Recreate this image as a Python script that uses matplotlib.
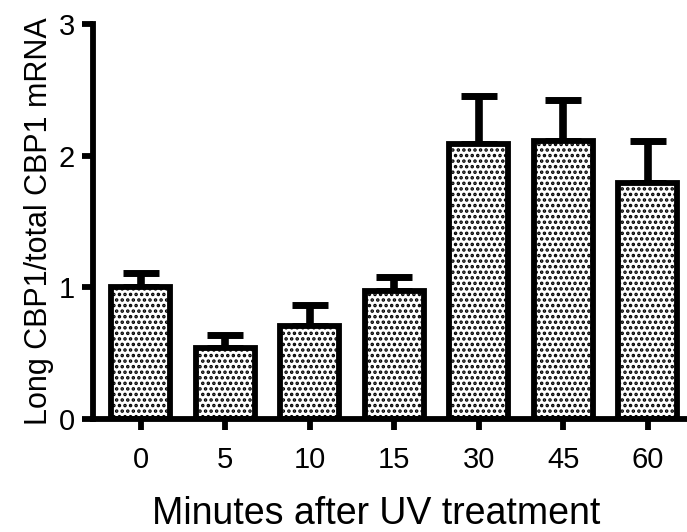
import numpy as np
import matplotlib
matplotlib.use("Agg")
import matplotlib.pyplot as plt

plt.rcParams['font.family'] = ['Liberation Sans', 'DejaVu Sans']
plt.rcParams['hatch.linewidth'] = 1.7

minutes = ['0', '5', '10', '15', '30', '45', '60']
ratio = [1.00, 0.54, 0.71, 0.97, 2.09, 2.11, 1.79]
sem = [0.11, 0.10, 0.16, 0.11, 0.36, 0.31, 0.32]

fig = plt.figure(figsize=(6.87, 5.32), dpi=100)
ax = fig.add_axes([0.135, 0.212, 0.862, 0.743])

x = np.arange(len(minutes))
lw = 4.2

# error bars first (upper only), bars drawn on top
ax.errorbar(x, ratio, yerr=[np.zeros(len(sem)), sem], fmt='none',
            ecolor='black', elinewidth=5.5, capsize=13, capthick=5, zorder=1)
ax.bar(x, ratio, width=0.7, facecolor='white', edgecolor='black',
       linewidth=lw, hatch='...', zorder=2)

ax.set_xlim(-0.57, 6.44)
ax.set_ylim(0, 3)
ax.set_yticks([0, 1, 2, 3])
ax.set_xticks(x)
ax.set_xticklabels(minutes)

for s in ['top', 'right']:
    ax.spines[s].set_visible(False)
for s in ['left', 'bottom']:
    ax.spines[s].set_linewidth(lw)
ax.tick_params(axis='both', width=lw, length=8, labelsize=21, pad=5)
ax.tick_params(axis='x', pad=11)

ax.set_xlabel('Minutes after UV treatment', fontsize=27, labelpad=16)
ax.xaxis.label.set_x(0.478)
ax.set_ylabel('Long CBP1/total CBP1 mRNA', fontsize=22, labelpad=3)

fig.savefig('out.png', dpi=100)
